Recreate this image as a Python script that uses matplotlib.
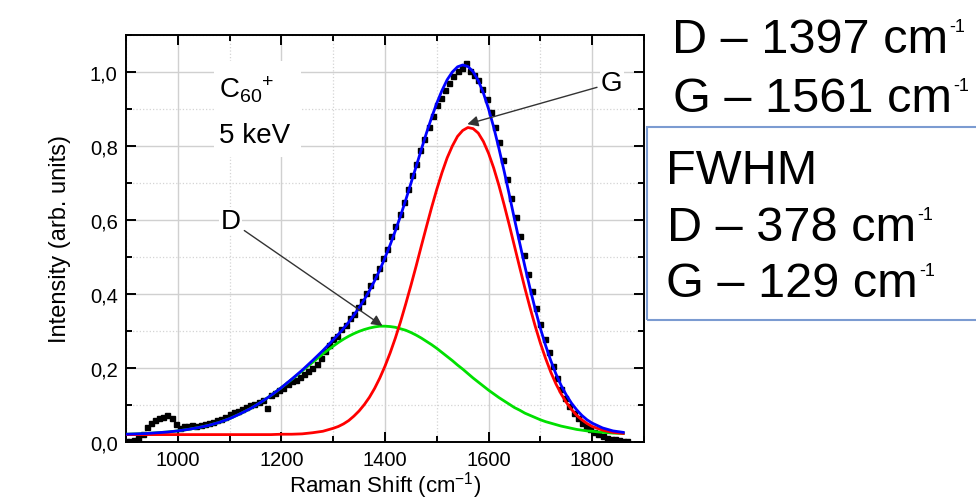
import numpy as np
import matplotlib
matplotlib.use("Agg")
import matplotlib.pyplot as plt
from matplotlib.patches import Rectangle
from matplotlib.ticker import FixedLocator, MultipleLocator

plt.rcParams['font.family'] = ['Liberation Sans', 'DejaVu Sans']
plt.rcParams['mathtext.fontset'] = 'custom'
plt.rcParams['mathtext.rm'] = 'Liberation Sans'
plt.rcParams['mathtext.it'] = 'Liberation Sans:italic'
plt.rcParams['mathtext.bf'] = 'Liberation Sans:bold'
plt.rcParams['mathtext.sf'] = 'Liberation Sans'

# measured spectrum (black squares), x grid every 8 cm-1
spec_x = np.arange(900, 1869, 8)
spec_y = [
    0.004, 0.002, 0.005, 0.010, 0.022, 0.040, 0.052, 0.060, 0.064, 0.068,
    0.072, 0.066, 0.048, 0.038, 0.044, 0.043, 0.046, 0.044, 0.047, 0.049,
    0.052, 0.055, 0.060, 0.063, 0.068, 0.075, 0.080, 0.085, 0.090, 0.094,
    0.099, 0.104, 0.108, 0.114, 0.092, 0.128, 0.133, 0.140, 0.145, 0.156,
    0.166, 0.168, 0.177, 0.183, 0.192, 0.200, 0.212, 0.228, 0.246, 0.262,
    0.279, 0.287, 0.305, 0.316, 0.334, 0.345, 0.366, 0.381, 0.402, 0.425,
    0.448, 0.470, 0.498, 0.522, 0.556, 0.583, 0.617, 0.650, 0.683, 0.722,
    0.752, 0.790, 0.820, 0.852, 0.880, 0.910, 0.930, 0.952, 0.970, 0.990,
    1.002, 1.010, 1.025, 1.004, 0.992, 0.978, 0.955, 0.928, 0.893, 0.852,
    0.810, 0.762, 0.712, 0.660, 0.608, 0.556, 0.505, 0.455, 0.408, 0.362,
    0.318, 0.278, 0.242, 0.205, 0.172, 0.143, 0.118, 0.097, 0.079, 0.064,
    0.052, 0.042, 0.034, 0.027, 0.021, 0.016, 0.012, 0.009, 0.007, 0.005,
    0.003, 0.002,
]

# fitted curves: every 20 cm-1 in the wings, every 10 cm-1 over the peaks
fit_x = np.r_[np.arange(900, 1300, 20), np.arange(1300, 1801, 10),
              np.arange(1820, 1861, 20)]
d_peak = [
    0.021, 0.022, 0.023, 0.025, 0.027, 0.030, 0.034, 0.039, 0.045, 0.053,
    0.063, 0.076, 0.090, 0.107, 0.126, 0.147, 0.169, 0.192, 0.215, 0.238,
    0.259, 0.269, 0.278, 0.286, 0.293, 0.299, 0.304, 0.308, 0.311, 0.313,
    0.313, 0.312, 0.310, 0.306, 0.302, 0.296, 0.289, 0.281, 0.272, 0.263,
    0.253, 0.242, 0.231, 0.220, 0.208, 0.197, 0.185, 0.173, 0.162, 0.151,
    0.140, 0.130, 0.120, 0.111, 0.102, 0.093, 0.086, 0.078, 0.072, 0.066,
    0.060, 0.055, 0.051, 0.047, 0.043, 0.040, 0.037, 0.034, 0.032, 0.030,
    0.029,
    0.026, 0.024, 0.023,
]
g_peak = [
    0.020, 0.020, 0.020, 0.020, 0.020, 0.020, 0.020, 0.020, 0.020, 0.020,
    0.020, 0.020, 0.020, 0.020, 0.020, 0.021, 0.021, 0.022, 0.025, 0.029,
    0.037, 0.042, 0.049, 0.058, 0.070, 0.084, 0.101, 0.121, 0.145, 0.173,
    0.205, 0.241, 0.281, 0.325, 0.373, 0.423, 0.475, 0.529, 0.582, 0.634,
    0.683, 0.728, 0.768, 0.800, 0.826, 0.842, 0.850, 0.847, 0.835, 0.812,
    0.780, 0.740, 0.693, 0.641, 0.586, 0.529, 0.472, 0.416, 0.363, 0.313,
    0.267, 0.226, 0.189, 0.157, 0.130, 0.107, 0.088, 0.072, 0.060, 0.050,
    0.042,
    0.032, 0.026, 0.023,
]
fit_sum = [
    0.021, 0.022, 0.023, 0.025, 0.027, 0.030, 0.034, 0.039, 0.045, 0.053,
    0.063, 0.076, 0.090, 0.107, 0.126, 0.147, 0.170, 0.194, 0.220, 0.247,
    0.276, 0.291, 0.307, 0.324, 0.343, 0.363, 0.385, 0.409, 0.436, 0.465,
    0.498, 0.533, 0.571, 0.611, 0.654, 0.699, 0.744, 0.790, 0.835, 0.877,
    0.916, 0.950, 0.979, 1.000, 1.014, 1.019, 1.015, 1.001, 0.977, 0.943,
    0.900, 0.850, 0.793, 0.732, 0.668, 0.602, 0.538, 0.475, 0.415, 0.359,
    0.307, 0.261, 0.220, 0.184, 0.153, 0.127, 0.105, 0.087, 0.072, 0.060,
    0.051,
    0.038, 0.030, 0.026,
]

y_ticks = [0.0, 0.2, 0.4, 0.6, 0.8, 1.0]
y_ticklabels = ['0,0', '0,2', '0,4', '0,6', '0,8', '1,0']
x_ticks = [1000, 1200, 1400, 1600, 1800]

W, H = 976, 502
fig = plt.figure(figsize=(W / 100, H / 100), dpi=100)
ax = fig.add_axes([126 / W, (H - 443) / H, 518 / W, 407 / H])

ax.plot(spec_x, spec_y, 's', color='black', ms=3.6, mec='black', zorder=3)
ax.plot(fit_x, d_peak, color='#00e000', lw=2, zorder=4)
ax.plot(fit_x, g_peak, color='#ff0000', lw=2, zorder=5)
ax.plot(fit_x, fit_sum, color='#0000ff', lw=2, zorder=6)

ax.set_xlim(900, 1900)
ax.set_ylim(0, 1.1)
ax.xaxis.set_major_locator(FixedLocator(x_ticks))
ax.xaxis.set_minor_locator(MultipleLocator(100))
ax.yaxis.set_major_locator(FixedLocator(y_ticks))
ax.set_yticklabels(y_ticklabels)
ax.yaxis.set_minor_locator(MultipleLocator(0.1))

ax.set_axisbelow(True)
ax.grid(which='major', color='#d0d0d0', lw=1.0, ls='-')
ax.grid(which='minor', color='#d4d4d4', lw=0.9, ls=':')
ax.tick_params(which='both', direction='in', top=True, right=True,
               width=1.4, labelsize=14.5, pad=6)
ax.tick_params(which='major', length=7)
ax.tick_params(which='minor', length=4.5)
for s in ax.spines.values():
    s.set_linewidth(1.4)

ax.set_ylabel('Intensity (arb. units)', fontsize=17)
ax.yaxis.set_label_coords(-0.106, 0.5)
ax.set_xlabel('Raman Shift (cm$^{-1}$)', fontsize=16)
ax.xaxis.set_label_coords(0.5, -0.066)

# white patch behind the sample label
ax.add_patch(Rectangle((0.170, 0.70), 0.168, 0.235, transform=ax.transAxes,
                       fc='white', ec='none', zorder=1))
ax.text(1079, 0.932, r'C$_{60}{}^{+}$', fontsize=20, va='baseline', zorder=2)
ax.text(1079, 0.811, '5 keV', fontsize=20, va='baseline', zorder=2)

arrow = dict(arrowstyle='-|>', color='#333333', lw=1.0, mutation_scale=16,
             shrinkA=2, shrinkB=0)
ax.annotate('D', xy=(1395, 0.314), xytext=(1102, 0.597), fontsize=20,
            ha='center', va='center', arrowprops=arrow, zorder=7,
            bbox=dict(fc='white', ec='none', pad=1))
ax.annotate('G', xy=(1559, 0.859), xytext=(1838, 0.970), fontsize=20,
            ha='center', va='center', arrowprops=arrow, zorder=7,
            bbox=dict(fc='white', ec='none', pad=1))

# peak positions and widths to the right of the plot
renderer = fig.canvas.get_renderer()


def line_with_sup(x_px, base_px, main, size=35, sup='-1', sup_size=13):
    t = fig.text(x_px / W, 1 - base_px / H, main, fontsize=size,
                 ha='left', va='baseline')
    bb = t.get_window_extent(renderer)
    cap_top = base_px - 0.716 * size * 100 / 72
    if sup:
        fig.text((bb.x1 + 1) / W, 1 - (cap_top + 1) / H, sup,
                 fontsize=sup_size, ha='left', va='top')


line_with_sup(672, 53, 'D – 1397 cm')
line_with_sup(673, 112, 'G – 1561 cm')
line_with_sup(666, 184, 'FWHM', sup=None)
line_with_sup(667, 241, 'D – 378 cm')
line_with_sup(666, 297, 'G – 129 cm')

fig.add_artist(Rectangle((647 / W, 1 - 321 / H), 400 / W, 193 / H,
                         transform=fig.transFigure, fill=False,
                         ec='#7b9bd1', lw=1.5))

fig.savefig('out.png', dpi=100)
